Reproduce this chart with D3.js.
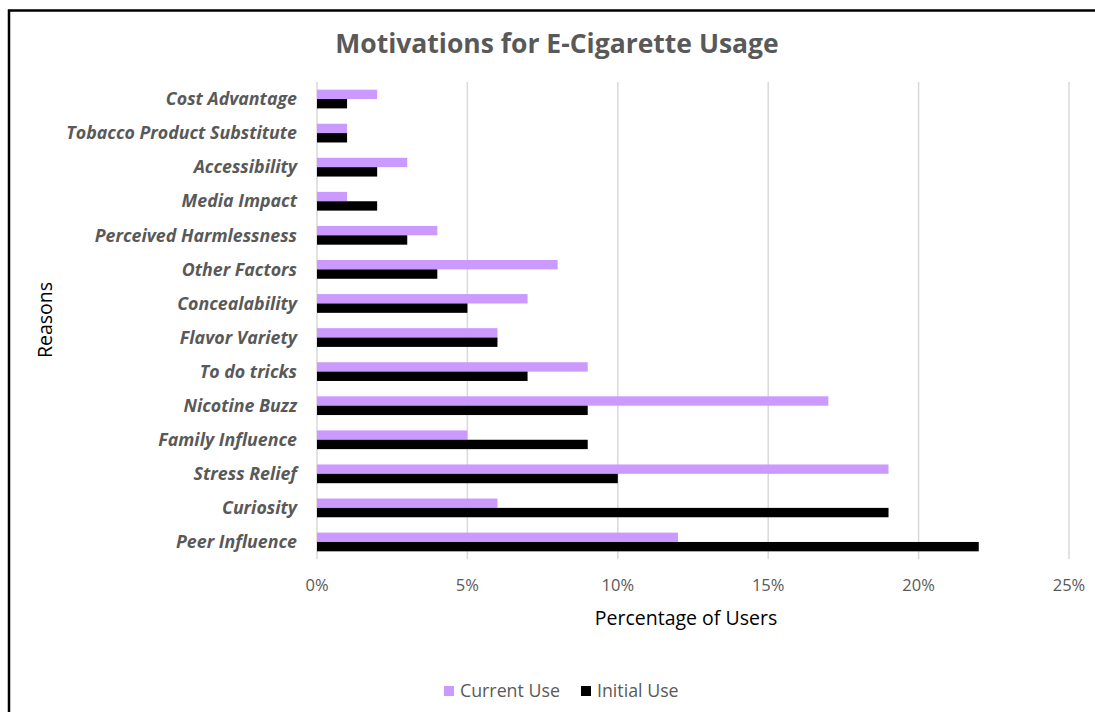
<!DOCTYPE html>
<html>
<head>
<meta charset="utf-8">
<script src="https://cdn.jsdelivr.net/npm/d3@7"></script>
<style>
  html, body { margin: 0; padding: 0; background: #fff; }
  svg { display: block; font-family: "Open Sans", Lato, sans-serif; }
</style>
</head>
<body>
<svg id="chart" width="1095" height="712"></svg>
<script>
// Reasons listed top to bottom
const reasons = [
  "Cost Advantage", "Tobacco Product Substitute", "Accessibility", "Media Impact",
  "Perceived Harmlessness", "Other Factors", "Concealability", "Flavor Variety",
  "To do tricks", "Nicotine Buzz", "Family Influence", "Stress Relief",
  "Curiosity", "Peer Influence"
];
// Percentage of users per reason
const currentUse = [2, 1, 3, 1, 4, 8, 7, 6, 9, 17, 5, 19, 6, 12];
const initialUse = [1, 1, 2, 2, 3, 4, 5, 6, 7, 9, 9, 10, 19, 22];
const seriesNames = ["Current Use", "Initial Use"];
const seriesColors = ["#cc99ff", "#000000"];
const xTicks = [0, 5, 10, 15, 20, 25];

const svg = d3.select("#chart");
const textGrey = "#595959";

// Outer frame (left and top edges visible)
svg.append("rect")
  .attr("x", 9).attr("y", 10.5)
  .attr("width", 1200).attr("height", 800)
  .attr("fill", "none").attr("stroke", "#000").attr("stroke-width", 2.5);

const plot = { left: 317, right: 1069, top: 82, bottom: 559 };

const x = d3.scaleLinear().domain([0, 25]).range([plot.left, plot.right]);
const y = d3.scaleBand().domain(reasons).range([plot.top, plot.bottom]).paddingInner(0.45).paddingOuter(0.225);
const sub = d3.scaleBand().domain(seriesNames).range([0, y.bandwidth()]);

// Vertical gridlines
svg.append("g").selectAll("line").data(xTicks).join("line")
  .attr("x1", d => x(d)).attr("x2", d => x(d))
  .attr("y1", plot.top).attr("y2", plot.bottom)
  .attr("stroke", "#d9d9d9").attr("stroke-width", 1.5);

// Bars
const series = [currentUse, initialUse];
series.forEach((vals, si) => {
  svg.append("g").selectAll("rect").data(reasons).join("rect")
    .attr("x", x(0))
    .attr("y", (d) => y(d) + sub(seriesNames[si]))
    .attr("width", (d, i) => x(vals[i]) - x(0))
    .attr("height", sub.bandwidth())
    .attr("fill", seriesColors[si]);
});

// Category labels
svg.append("g").selectAll("text").data(reasons).join("text")
  .attr("x", 297)
  .attr("y", d => y(d) + y.bandwidth() / 2)
  .attr("dy", "0.35em")
  .attr("text-anchor", "end")
  .attr("font-size", 17.8).attr("font-weight", "bold").attr("font-style", "italic")
  .attr("fill", textGrey)
  .text(d => d);

// X tick labels
svg.append("g").selectAll("text").data(xTicks).join("text")
  .attr("x", d => x(d)).attr("y", 585).attr("dy", "0.35em")
  .attr("text-anchor", "middle")
  .attr("font-size", 16.5).attr("fill", textGrey)
  .text(d => d + "%");

// Title
svg.append("text")
  .attr("x", 557).attr("y", 44).attr("dy", "0.35em")
  .attr("text-anchor", "middle")
  .attr("font-size", 26.5).attr("font-weight", "bold").attr("fill", textGrey)
  .text("Motivations for E-Cigarette Usage");

// Axis titles
svg.append("text")
  .attr("x", 686).attr("y", 618).attr("dy", "0.35em")
  .attr("text-anchor", "middle").attr("font-size", 19.5).attr("fill", "#000")
  .text("Percentage of Users");

svg.append("text")
  .attr("transform", "translate(45,320) rotate(-90)")
  .attr("dy", "0.35em")
  .attr("text-anchor", "middle").attr("font-size", 19.5).attr("fill", "#000")
  .text("Reasons");

// Legend
const legend = svg.append("g");
const legendItems = [
  { name: seriesNames[0], color: seriesColors[0], x: 444 },
  { name: seriesNames[1], color: seriesColors[1], x: 581 }
];
legendItems.forEach(it => {
  legend.append("rect").attr("x", it.x).attr("y", 686).attr("width", 10).attr("height", 10).attr("fill", it.color);
  legend.append("text").attr("x", it.x + 16).attr("y", 691).attr("dy", "0.35em")
    .attr("font-size", 17.8).attr("fill", textGrey).text(it.name);
});
</script>
</body>
</html>
